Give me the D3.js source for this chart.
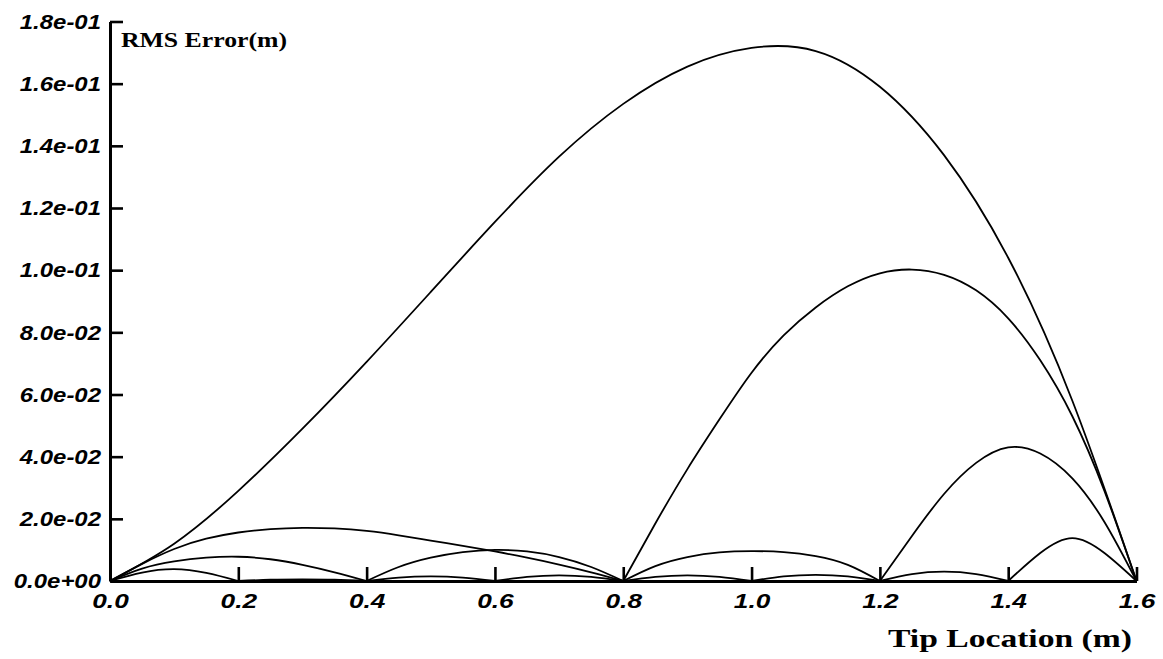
<!DOCTYPE html>
<html>
<head>
<meta charset="utf-8">
<script src="https://cdn.jsdelivr.net/npm/d3@7"></script>
<style>
  html, body { margin: 0; padding: 0; background: #fff; }
  svg { display: block; }
  .tick text { font-family: "Liberation Sans", Arial, sans-serif; font-weight: bold; font-style: italic; font-size: 21px; fill: #000; }
  .title { font-family: "Liberation Serif", "Times New Roman", serif; font-weight: bold; fill: #000; }
</style>
</head>
<body>
<svg id="chart" width="1163" height="659"></svg>
<script>
// ---------- data ----------
const xTickValues = [0, 0.2, 0.4, 0.6, 0.8, 1.0, 1.2, 1.4, 1.6];
const xTickLabels = ["0.0", "0.2", "0.4", "0.6", "0.8", "1.0", "1.2", "1.4", "1.6"];
const yTickValues = [0, 0.02, 0.04, 0.06, 0.08, 0.10, 0.12, 0.14, 0.16, 0.18];
const yTickLabels = ["0.0e+00", "2.0e-02", "4.0e-02", "6.0e-02", "8.0e-02",
                     "1.0e-01", "1.2e-01", "1.4e-01", "1.6e-01", "1.8e-01"];
const xLabel = "Tip Location (m)";
const yLabel = "RMS Error(m)";

// 1 element
const oneElemX = [0, 0.1, 0.2, 0.3, 0.4, 0.5, 0.6, 0.7, 0.8, 0.9, 1.0, 1.1, 1.2, 1.3, 1.4, 1.5, 1.6];
const oneElemY = [0, 0.012, 0.029, 0.049, 0.0705, 0.093, 0.1155, 0.1365, 0.1535, 0.1655, 0.1715, 0.1705, 0.159, 0.137, 0.104, 0.058, 0];

// 2 elements
const twoElemX = [0, 0.05, 0.1, 0.15, 0.2, 0.25, 0.3, 0.35, 0.4, 0.45, 0.5, 0.55, 0.6, 0.65, 0.7, 0.75, 0.8,
                  0.85, 0.9, 0.95, 1.0, 1.05, 1.1, 1.15, 1.2, 1.25, 1.3, 1.35, 1.4, 1.45, 1.5, 1.55, 1.6];
const twoElemY = [0, 0.0055, 0.0103, 0.0136, 0.0156, 0.0167, 0.0171, 0.0169, 0.0161, 0.0147, 0.0130, 0.0113, 0.0095, 0.0075, 0.0053, 0.0028, 0,
                  0.0185, 0.036, 0.052, 0.067, 0.079, 0.088, 0.0948, 0.099, 0.1002, 0.0985, 0.0935, 0.0845, 0.071, 0.053, 0.029, 0];

// 4 elements
const fourElemX = [0, 0.05, 0.1, 0.15, 0.2, 0.25, 0.3, 0.35, 0.4,
                   0.45, 0.5, 0.55, 0.6, 0.65, 0.7, 0.75, 0.8,
                   0.85, 0.9, 0.95, 1.0, 1.05, 1.1, 1.15, 1.2,
                   1.25, 1.3, 1.35, 1.4, 1.45, 1.5, 1.55, 1.6];
const fourElemY = [0, 0.0040, 0.0063, 0.0075, 0.0078, 0.0070, 0.0052, 0.0028, 0,
                   0.0045, 0.0075, 0.0093, 0.0100, 0.0095, 0.0077, 0.0045, 0,
                   0.0048, 0.0077, 0.0092, 0.0096, 0.0093, 0.0080, 0.0052, 0,
                   0.0145, 0.0280, 0.0380, 0.0430, 0.0410, 0.0330, 0.0190, 0];

// 8 elements
const eightElemX = [0, 0.05, 0.1, 0.15, 0.2, 0.25, 0.3, 0.35, 0.4,
                    0.45, 0.5, 0.55, 0.6, 0.65, 0.7, 0.75, 0.8,
                    0.85, 0.9, 0.95, 1.0, 1.05, 1.1, 1.15, 1.2,
                    1.25, 1.3, 1.35, 1.4, 1.45, 1.5, 1.55, 1.6];
const eightElemY = [0, 0.0027, 0.0038, 0.0026, 0, 0.0004, 0.0005, 0.0004, 0,
                    0.0011, 0.0015, 0.0011, 0, 0.0013, 0.0018, 0.0013, 0,
                    0.0013, 0.0018, 0.0013, 0, 0.0015, 0.0020, 0.0015, 0,
                    0.0022, 0.0030, 0.0022, 0, 0.0090, 0.0138, 0.0090, 0];

const seriesX = [oneElemX, twoElemX, fourElemX, eightElemX];
const seriesY = [oneElemY, twoElemY, fourElemY, eightElemY];

// ---------- drawing ----------
const svg = d3.select("#chart");
const x = d3.scaleLinear().domain([0, 1.6]).range([110, 1136.5]);
const y = d3.scaleLinear().domain([0, 0.18]).range([581, 21.5]);

const line = d3.line()
  .x(d => x(d[0]))
  .y(d => y(d[1]))
  .curve(d3.curveNatural);

// split each series into arches at its zero nodes
seriesX.forEach((xs, si) => {
  const ys = seriesY[si];
  let seg = [[xs[0], ys[0]]];
  for (let i = 1; i < xs.length; i++) {
    seg.push([xs[i], ys[i]]);
    if (ys[i] === 0 || i === xs.length - 1) {
      svg.append("path")
        .attr("d", line(seg))
        .attr("fill", "none")
        .attr("stroke", "#000")
        .attr("stroke-width", 1.8);
      seg = [[xs[i], ys[i]]];
    }
  }
});

// axes
const yAxis = d3.axisLeft(y)
  .tickValues(yTickValues)
  .tickFormat((d, i) => yTickLabels[i])
  .tickSizeInner(-13)
  .tickSizeOuter(0)
  .tickPadding(9);
const gy = svg.append("g").attr("transform", `translate(${x(0)},0)`).call(yAxis);

const xAxis = d3.axisBottom(x)
  .tickValues(xTickValues)
  .tickFormat((d, i) => xTickLabels[i])
  .tickSizeInner(-14)
  .tickSizeOuter(0)
  .tickPadding(12);
const gx = svg.append("g").attr("transform", `translate(0,${y(0)})`).call(xAxis);

[gx, gy].forEach(g => {
  g.select(".domain").attr("stroke", "#000").attr("stroke-width", 3);
  g.selectAll(".tick line").attr("stroke", "#000").attr("stroke-width", 2.6);
});
gy.selectAll(".tick text").attr("x", -9);

// the original lettering is horizontally wider than the available fonts
function widen(sel, k) {
  sel.each(function () {
    const w = this.getComputedTextLength();
    d3.select(this).attr("textLength", w * k).attr("lengthAdjust", "spacingAndGlyphs");
  });
}
widen(gy.selectAll(".tick text"), 1.14);
widen(gx.selectAll(".tick text"), 1.25);

// axis titles
svg.append("text")
  .attr("class", "title")
  .attr("x", 121).attr("y", 47)
  .attr("font-size", 20)
  .attr("textLength", 166)
  .attr("lengthAdjust", "spacingAndGlyphs")
  .text(yLabel);

svg.append("text")
  .attr("class", "title")
  .attr("x", 888).attr("y", 647)
  .attr("font-size", 26)
  .attr("textLength", 244)
  .attr("lengthAdjust", "spacingAndGlyphs")
  .text(xLabel);
</script>
</body>
</html>
